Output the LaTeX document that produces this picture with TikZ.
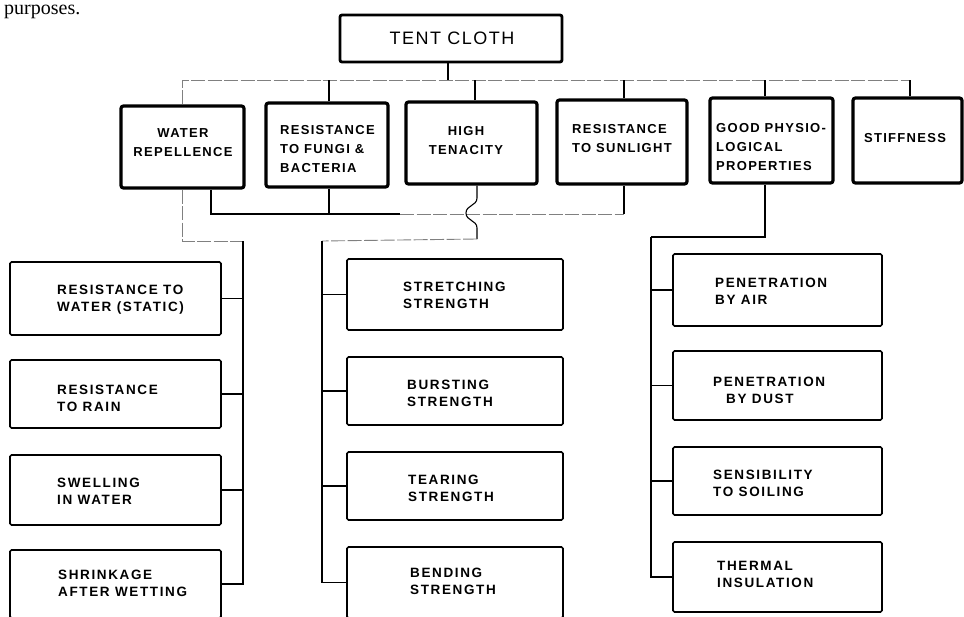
\documentclass[tikz,border=0pt]{standalone}
\usepackage{fontspec}
\setmainfont{Liberation Sans}
\newfontfamily\serifface{Liberation Serif}
\newfontfamily\lblface[LetterSpace=10]{Liberation Sans}
\newfontfamily\lblfacewide[LetterSpace=12]{Liberation Sans}
\newfontfamily\topface[LetterSpace=8]{Liberation Sans}
\begin{document}
\begin{tikzpicture}[x=1pt,y=-1pt,
  topbox/.style={draw, line width=2.8pt, rounded corners=2pt, inner sep=0pt, minimum width=222pt, minimum height=47pt},
  lvtwo/.style={draw, line width=3.2pt, rounded corners=2.5pt, inner sep=0pt},
  lvthree/.style={draw, line width=1.6pt, rounded corners=1.5pt, inner sep=0pt},
  lbltwo/.style={inner sep=0pt, font=\lblface\bfseries\fontsize{13}{19}\selectfont},
  lblthree/.style={inner sep=0pt, anchor=west, align=left, font=\lblfacewide\bfseries\fontsize{13.5}{17}\selectfont},
  conn/.style={line width=1.1pt, black},
  bus/.style={line width=0.9pt, black!50, dash pattern=on 14pt off 2.5pt}]
\useasboundingbox (0,0) rectangle (964,616);
\fill[white] (0,0) rectangle (964,616);
\begin{scope}
\clip (0,0) rectangle (964,616);
% fragment of page text
\node[font=\serifface\fontsize{20}{20}\selectfont, anchor=base west, inner sep=0pt] (prp) at (4,14) {purposes.};

% level 1
\node[topbox] (tc) at (451,38.5) {};
\node[inner sep=0pt, font=\topface\fontsize{18}{20}\selectfont] (tct) at (452,38) {TENT CLOTH};

% level 2 boxes
\node[lvtwo, minimum width=123pt, minimum height=82pt] (wr) at (182.5,147) {};
\node[lvtwo, minimum width=122pt, minimum height=84pt] (fb) at (327,145) {};
\node[lvtwo, minimum width=131pt, minimum height=82pt] (ht) at (471.5,143) {};
\node[lvtwo, minimum width=130pt, minimum height=84pt] (rs) at (622,142) {};
\node[lvtwo, minimum width=123pt, minimum height=85pt] (gp) at (771.5,140.5) {};
\node[lvtwo, minimum width=109pt, minimum height=85pt] (st) at (907.5,140.5) {};

\node[lbltwo, align=center] (twr) at (183,143) {WATER\\REPELLENCE};
\node[lbltwo, align=left, anchor=west] (tfb) at (280,149) {RESISTANCE\\TO FUNGI \&\\BACTERIA};
\node[lbltwo, align=center] (tht) at (466,141) {HIGH\\TENACITY};
\node[lbltwo, align=left, anchor=west] (trs) at (572,139) {RESISTANCE\\TO SUNLIGHT};
\node[lbltwo, align=left, anchor=west] (tgp) at (716,147) {GOOD PHYSIO-\\LOGICAL\\PROPERTIES};
\node[lbltwo] (tst) at (905,138) {STIFFNESS};

% level 3 boxes
\node[lvthree, minimum width=211pt, minimum height=73pt] (a1) at (115.5,298.5) {};
\node[lvthree, minimum width=211pt, minimum height=68pt] (a2) at (115.5,394) {};
\node[lvthree, minimum width=211pt, minimum height=70pt] (a3) at (115.5,490) {};
\node[lvthree, minimum width=211pt, minimum height=68pt] (a4) at (115.5,584) {};
\node[lvthree, minimum width=216pt, minimum height=71pt] (b1) at (455,294.5) {};
\node[lvthree, minimum width=216pt, minimum height=68pt] (b2) at (455,391) {};
\node[lvthree, minimum width=216pt, minimum height=68pt] (b3) at (455,486) {};
\node[lvthree, minimum width=216pt, minimum height=71pt] (b4) at (455,582.5) {};
\node[lvthree, minimum width=209pt, minimum height=72pt] (c1) at (777.5,290) {};
\node[lvthree, minimum width=209pt, minimum height=69pt] (c2) at (777.5,385.5) {};
\node[lvthree, minimum width=209pt, minimum height=68pt] (c3) at (777.5,481) {};
\node[lvthree, minimum width=209pt, minimum height=70pt] (c4) at (777.5,577) {};

\node[lblthree] (ta1) at (57,300) {RESISTANCE TO\\WATER (STATIC)};
\node[lblthree] (ta2) at (57,398) {RESISTANCE\\TO RAIN};
\node[lblthree] (ta3) at (57,491) {SWELLING\\IN WATER};
\node[lblthree] (ta4) at (58,583) {SHRINKAGE\\AFTER WETTING};
\node[lblthree] (tb1) at (403,295) {STRETCHING\\STRENGTH};
\node[lblthree] (tb2) at (407,393) {BURSTING\\STRENGTH};
\node[lblthree] (tb3) at (408,488) {TEARING\\STRENGTH};
\node[lblthree] (tb4) at (410,581) {BENDING\\STRENGTH};
\node[lblthree] (tc1) at (715,291) {PENETRATION\\BY AIR};
\node[lblthree] (tc2) at (713,390) {PENETRATION\\\hspace*{13pt}BY DUST};
\node[lblthree] (tc3) at (713,483) {SENSIBILITY\\TO SOILING};
\node[lblthree] (tc4) at (717,574) {THERMAL\\INSULATION};

% helper rows
\coordinate (busrow) at (0,80);
\coordinate (hrow) at (0,214);
\coordinate (h2) at (400,214);
\coordinate (lsp) at (243,241);
\coordinate (msp) at (322,241);
\coordinate (rsp) at (651,237);
\coordinate (sqa) at (477,198);
\coordinate (sqb) at (477,239);

% top bus
\draw[conn] ([xshift=-3pt]tc.south) -- ([xshift=-3pt]tc.south |- busrow);
\draw[bus] (wr.north) -- (wr.north |- busrow) -- ([xshift=2.5pt]st.north |- busrow);
\draw[conn] ([xshift=2pt]fb.north) -- ([xshift=2pt]fb.north |- busrow);
\draw[conn] ([xshift=3.5pt]ht.north) -- ([xshift=3.5pt]ht.north |- busrow);
\draw[conn] ([xshift=2pt]rs.north) -- ([xshift=2pt]rs.north |- busrow);
\draw[conn] ([xshift=-6.5pt]gp.north) -- ([xshift=-6.5pt]gp.north |- busrow);
\draw[conn] ([xshift=2.5pt]st.north) -- ([xshift=2.5pt]st.north |- busrow);

% lower cross link
\draw[conn] ([xshift=28.5pt]wr.south) |- ([xshift=2pt]fb.south |- hrow) -- ([xshift=2pt]fb.south);
\draw[conn] ([xshift=2pt]fb.south |- hrow) -- (h2);
\draw[bus] (h2) -- ([xshift=2pt]rs.south |- hrow);
\draw[conn] ([xshift=2pt]rs.south |- hrow) -- ([xshift=2pt]rs.south);

% left group
\draw[bus] (wr.south) |- (lsp);
\draw[conn] (lsp) |- (a4.east);
\draw[conn] (lsp |- a1.east) -- (a1.east);
\draw[conn] (lsp |- a2.east) -- (a2.east);
\draw[conn] (lsp |- a3.east) -- (a3.east);

% middle group with jump
\draw[conn] ([xshift=5.5pt]ht.south) -- (sqa) .. controls (477,206) and (466,205) .. (466,213)
  .. controls (466,221) and (477,220) .. (477,228) -- (sqb);
\draw[bus] (sqb) -- (msp);
\draw[conn] (msp) |- (b4.west);
\draw[conn] (msp |- b1.west) -- (b1.west);
\draw[conn] (msp |- b2.west) -- (b2.west);
\draw[conn] (msp |- b3.west) -- (b3.west);

% right group
\draw[conn] ([xshift=-6.5pt]gp.south) -- ([xshift=-6.5pt]gp.south |- rsp) -- (rsp);
\draw[conn] (rsp) |- (c4.west);
\draw[conn] (rsp |- c1.west) -- (c1.west);
\draw[conn] (rsp |- c2.west) -- (c2.west);
\draw[conn] (rsp |- c3.west) -- (c3.west);
\end{scope}
\end{tikzpicture}
\end{document}
